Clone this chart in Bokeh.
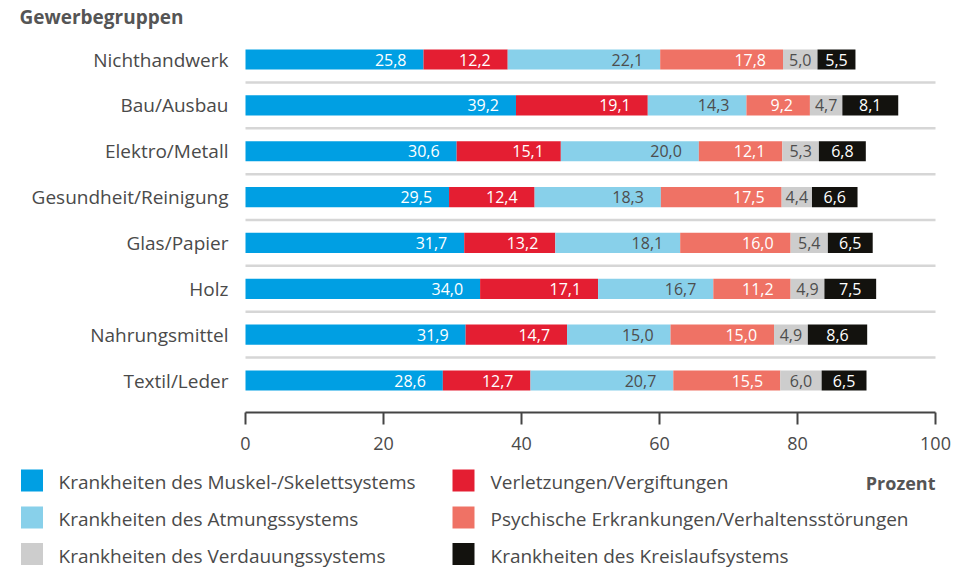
from bokeh.plotting import figure
from bokeh.models import Range1d, FixedTicker, ColumnDataSource, LinearAxis
from bokeh.embed import file_html
from bokeh.resources import INLINE
from bokeh.core.properties import value

# ---------------- data ----------------
groups = ["Nichthandwerk", "Bau/Ausbau", "Elektro/Metall", "Gesundheit/Reinigung",
          "Glas/Papier", "Holz", "Nahrungsmittel", "Textil/Leder"]
series = ["Krankheiten des Muskel-/Skelettsystems",
          "Verletzungen/Vergiftungen",
          "Krankheiten des Atmungssystems",
          "Psychische Erkrankungen/Verhaltensstörungen",
          "Krankheiten des Verdauungssystems",
          "Krankheiten des Kreislaufsystems"]
muskel = [25.8, 39.2, 30.6, 29.5, 31.7, 34.0, 31.9, 28.6]
verletzung = [12.2, 19.1, 15.1, 12.4, 13.2, 17.1, 14.7, 12.7]
atmung = [22.1, 14.3, 20.0, 18.3, 18.1, 16.7, 15.0, 20.7]
psyche = [17.8, 9.2, 12.1, 17.5, 16.0, 11.2, 15.0, 15.5]
verdauung = [5.0, 4.7, 5.3, 4.4, 5.4, 4.9, 4.9, 6.0]
kreislauf = [5.5, 8.1, 6.8, 6.6, 6.5, 7.5, 8.6, 6.5]
x_ticks = [0, 20, 40, 60, 80, 100]
title_text = "Gewerbegruppen"
unit_text = "Prozent"

values_list = [muskel, verletzung, atmung, psyche, verdauung, kreislauf]
colors = ["#009FE3", "#E41E32", "#88D0EA", "#EF7265", "#CDCDCD", "#13120E"]
text_colors = ["white", "white", "#4d4d4d", "white", "#4d4d4d", "white"]

FONT = "Open Sans"
LABEL_COLOR = "#4a4a4a"

# ---------------- layout constants (pixels) ----------------
W, H = 960, 567
X0_PX, PX_PER_UNIT = 245.0, 6.9          # where value 0 sits, pixels per percent
ROW0_PX, ROW_STEP = 59.0, 45.86          # centre of first row, row spacing
AXIS_PX = 412.0                          # vertical position of the value axis

x_start = -X0_PX / PX_PER_UNIT
x_end = (W - X0_PX) / PX_PER_UNIT
y_top = -ROW0_PX / ROW_STEP
y_bottom = (H - ROW0_PX) / ROW_STEP
axis_y = (AXIS_PX - ROW0_PX) / ROW_STEP

p = figure(width=W, height=H,
           x_range=Range1d(x_start, x_end), y_range=Range1d(y_bottom, y_top),
           x_axis_type=None, y_axis_type=None,
           output_backend="svg", toolbar_location=None, min_border=0)
p.outline_line_color = None
p.background_fill_color = "white"
p.border_fill_color = "white"
p.extra_x_ranges = {"px": Range1d(0, W)}
p.extra_y_ranges = {"px": Range1d(H, 0)}

ys = list(range(len(groups)))

# separators between rows
sep_y = [i + 0.5 for i in ys[:-1]]
p.segment(x0=[x_ticks[0]] * len(sep_y), y0=sep_y, x1=[x_ticks[-1]] * len(sep_y), y1=sep_y,
          line_color="#d6d6d6", line_width=2.5)

left = [0.0] * len(groups)
for k, vals in enumerate(values_list):
    right = [l + v for l, v in zip(left, vals)]
    mid = [(l + r) / 2 for l, r in zip(left, right)]
    src = ColumnDataSource(dict(y=ys, left=left, right=right, mid=mid,
                                lab=[f"{v:.1f}".replace(".", ",") for v in vals]))
    p.hbar(y="y", left="left", right="right", height=0.44, source=src,
           fill_color=colors[k], line_color=None)
    if k < 4:
        p.text(x="right", y="y", text="lab", source=src, x_offset=-17,
               text_align="right", text_baseline="middle",
               text_font=value(FONT), text_font_size="16px", text_color=text_colors[k])
    else:
        p.text(x="mid", y="y", text="lab", source=src,
               text_align="center", text_baseline="middle",
               text_font=value(FONT), text_font_size="16px", text_color=text_colors[k])
    left = right

# value axis (fixed inside the canvas)
xa = LinearAxis(fixed_location=axis_y, ticker=FixedTicker(ticks=x_ticks),
                bounds=(x_ticks[0], x_ticks[-1]))
xa.axis_line_color = "#444444"
xa.axis_line_width = 2
xa.major_tick_line_color = "#444444"
xa.major_tick_line_width = 2
xa.major_tick_out = 12
xa.major_tick_in = 0
xa.minor_tick_line_color = None
xa.major_label_standoff = 12
xa.major_label_text_font = FONT
xa.major_label_text_font_size = "18px"
xa.major_label_text_color = LABEL_COLOR
p.add_layout(xa, "below")

# category axis
ya = LinearAxis(fixed_location=0, ticker=FixedTicker(ticks=ys))
ya.major_label_overrides = {i: g for i, g in zip(ys, groups)}
ya.axis_line_color = None
ya.major_tick_line_color = None
ya.minor_tick_line_color = None
ya.major_tick_out = 0
ya.major_tick_in = 0
ya.major_label_standoff = 17
ya.major_label_text_font = FONT
ya.major_label_text_font_size = "19px"
ya.major_label_text_color = LABEL_COLOR
p.add_layout(ya, "left")

# title
p.text(x=[19], y=[16], text=[title_text], x_range_name="px", y_range_name="px",
       text_baseline="middle", text_font=value(FONT), text_font_size="19px",
       text_font_style="bold", text_color="#555555")

# legend (2 columns x 3 rows)
col_sq = [31.5, 463]
col_tx = [58, 490]
row_y = [480, 517, 553.5]
sq_x = [col_sq[i % 2] for i in range(len(series))]
sq_y = [row_y[i // 2] for i in range(len(series))]
tx_x = [col_tx[i % 2] for i in range(len(series))]
lsrc = ColumnDataSource(dict(sx=sq_x, sy=sq_y, tx=tx_x, ty=[v + 1.5 for v in sq_y],
                             name=series, c=colors))
p.rect(x="sx", y="sy", width=22, height=22, fill_color="c", line_color=None, source=lsrc,
       x_range_name="px", y_range_name="px")
p.text(x="tx", y="ty", text="name", source=lsrc, text_baseline="middle",
       text_font=value(FONT), text_font_size="19px", text_color=LABEL_COLOR,
       x_range_name="px", y_range_name="px")
p.text(x=[935], y=[482], text=[unit_text], text_align="right", text_baseline="middle",
       text_font=value(FONT), text_font_size="18px", text_font_style="bold",
       text_color="#555555", x_range_name="px", y_range_name="px")

open("out.html", "w").write(file_html(p, INLINE))
